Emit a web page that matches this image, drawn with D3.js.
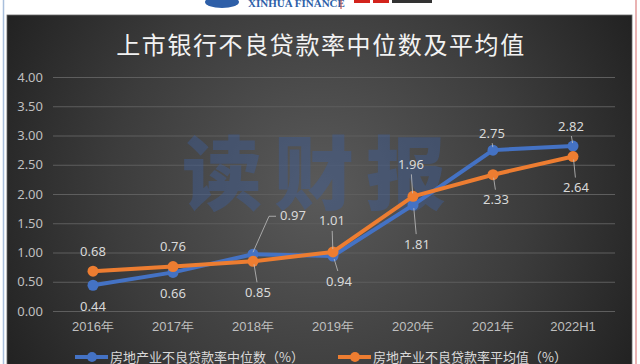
<!DOCTYPE html>
<html>
<head>
<meta charset="utf-8">
<script src="https://cdn.jsdelivr.net/npm/d3@7"></script>
<style>
  html, body { margin: 0; padding: 0; background: #ffffff; }
  svg { display: block; font-family: "Noto Sans CJK SC", "Noto Sans", sans-serif; }
</style>
</head>
<body>
<svg id="chart" width="640" height="364"></svg>
<script>
// data
var categories = ["2016年", "2017年", "2018年", "2019年", "2020年", "2021年", "2022H1"];
var medianValues = [0.44, 0.66, 0.97, 0.94, 1.81, 2.75, 2.82];
var meanValues = [0.68, 0.76, 0.85, 1.01, 1.96, 2.33, 2.64];
var yTicks = [0, 0.5, 1, 1.5, 2, 2.5, 3, 3.5, 4];
var seriesNames = ["房地产业不良贷款率中位数（%）", "房地产业不良贷款率平均值（%）"];
var titleText = "上市银行不良贷款率中位数及平均值";

// label placement (px offsets from the point), leader line drawn when lead = true
var medianLabelPos = [
	{dx: 0, dy: 21, lead: false}, {dx: 0, dy: 21, lead: false}, {dx: 40, dy: -39, lead: true, elbow: true},
	{dx: 6, dy: 25, lead: true}, {dx: 4, dy: 39, lead: true}, {dx: -1, dy: -17, lead: true}, {dx: -2, dy: -20, lead: true}
];
var meanLabelPos = [
	{dx: 0, dy: -20, lead: false}, {dx: 0, dy: -20, lead: false}, {dx: 5, dy: 31, lead: true},
	{dx: -1, dy: -31, lead: true}, {dx: -2, dy: -32, lead: true}, {dx: 3, dy: 25, lead: true}, {dx: 3, dy: 31, lead: true}
];

var BLUE = "#4472c4", ORANGE = "#ed7d31";
var PLOT_L = 53, PLOT_R = 613, PLOT_T = 77, PLOT_B = 311;

var svg = d3.select("#chart");

// ---- header strip with logos (cut off at top)
var head = svg.append("g");
head.append("ellipse").attr("cx", 222).attr("cy", 2).attr("rx", 17).attr("ry", 6).attr("fill", "#2e5fa8");
head.append("text").attr("x", 248).attr("y", 7)
	.attr("font-family", "Liberation Serif, serif").attr("font-weight", "bold")
	.attr("font-size", 11).attr("fill", "#2e5fa8").text("XINHUA FINANCE");
head.append("line").attr("x1", 341).attr("x2", 341).attr("y1", 0).attr("y2", 9)
	.attr("stroke", "#c0302a").attr("stroke-width", 1);
head.append("rect").attr("x", 354).attr("y", 0).attr("width", 16).attr("height", 3).attr("fill", "#d3231c");
head.append("rect").attr("x", 373).attr("y", 0).attr("width", 16).attr("height", 3).attr("fill", "#d3231c");
head.append("rect").attr("x", 392).attr("y", 0).attr("width", 40).attr("height", 3).attr("fill", "#333");

// side borders
svg.append("line").attr("x1", 3.5).attr("x2", 3.5).attr("y1", 0).attr("y2", 364).attr("stroke", "#a9bfdc").attr("stroke-width", 1.5);
svg.append("line").attr("x1", 636).attr("x2", 636).attr("y1", 0).attr("y2", 364).attr("stroke", "#e39a9a").attr("stroke-width", 1.5);

// ---- dark panel
var defs = svg.append("defs");
var grad = defs.append("radialGradient").attr("id", "bg")
	.attr("gradientUnits", "userSpaceOnUse")
	.attr("cx", 320).attr("cy", 190).attr("r", 380);
grad.append("stop").attr("offset", "0%").attr("stop-color", "#5a5a5a");
grad.append("stop").attr("offset", "55%").attr("stop-color", "#3c3c3c");
grad.append("stop").attr("offset", "100%").attr("stop-color", "#1e1e1e");

svg.append("rect").attr("x", 7).attr("y", 15).attr("width", 625).attr("height", 360)
	.attr("fill", "url(#bg)").attr("stroke", "#6a6a6a").attr("stroke-width", 0.8);

// title
svg.append("text").attr("x", 321).attr("y", 54).attr("text-anchor", "middle")
	.attr("font-size", 24).attr("letter-spacing", 1.6).attr("fill", "#f2f2f2")
	.text(titleText);

// scales
var x = d3.scaleBand().domain(categories).range([PLOT_L, PLOT_R]);
var y = d3.scaleLinear().domain([0, 4]).range([PLOT_B, PLOT_T]);
var cx = function(i) { return x(categories[i]) + x.bandwidth() / 2; };

// gridlines + y labels
var yAxis = d3.axisLeft(y).tickValues(yTicks).tickFormat(d3.format(".2f"))
	.tickSize(-(PLOT_R + 2 - PLOT_L)).tickPadding(10);
var gy = svg.append("g").attr("transform", "translate(" + PLOT_L + ",0)").call(yAxis);
gy.select(".domain").remove();
gy.selectAll(".tick line").attr("stroke", "#5e5e5e").attr("stroke-width", 1);
gy.selectAll(".tick text").attr("fill", "#bfbfbf").attr("font-size", 13)
	.attr("font-family", "Noto Sans, sans-serif");

// x labels
var xAxis = d3.axisBottom(x).tickSize(0).tickPadding(11);
var gx = svg.append("g").attr("transform", "translate(0," + PLOT_B + ")").call(xAxis);
gx.select(".domain").remove();
gx.selectAll(".tick text").attr("fill", "#bfbfbf").attr("font-size", 13);

// watermark
svg.append("text").attr("x", 320).attr("y", 203).attr("text-anchor", "middle")
	.attr("font-size", 80).attr("font-weight", 900).attr("letter-spacing", 12)
	.attr("fill", "#3d5e96").attr("fill-opacity", 0.45)
	.text("读财报");

// series
var line = d3.line().x(function(d, i) { return cx(i); }).y(function(d) { return y(d); });

function drawSeries(values, color, labelPos) {
	var g = svg.append("g");
	g.append("path").datum(values).attr("d", line)
		.attr("fill", "none").attr("stroke", color).attr("stroke-width", 4)
		.attr("stroke-linejoin", "round");
	g.selectAll("circle").data(values).enter().append("circle")
		.attr("cx", function(d, i) { return cx(i); })
		.attr("cy", function(d) { return y(d); })
		.attr("r", 5.5).attr("fill", color);
	return g;
}

function drawLabels(values, labelPos) {
	var g = svg.append("g");
	values.forEach(function(v, i) {
		var p = labelPos[i];
		var px = cx(i), py = y(v);
		var lx = px + p.dx, ly = py + p.dy;
		if (p.lead) {
			var pts;
			if (p.elbow) {
				pts = [[px, py - 2], [lx - 24, ly + 1], [lx - 17, ly + 1]];
			} else {
				var up = p.dy < 0;
				pts = [[px + p.dx * 0.2, py + (up ? -3 : 3)], [lx - p.dx * 0.2, ly + (up ? 10 : -10)]];
			}
			g.append("path").attr("d", d3.line()(pts))
				.attr("fill", "none").attr("stroke", "#bfbfbf").attr("stroke-width", 0.8);
		}
		g.append("text").attr("x", lx).attr("y", ly).attr("dy", "0.35em")
			.attr("text-anchor", "middle").attr("font-size", 13)
			.attr("font-family", "Noto Sans, sans-serif")
			.attr("fill", "#d9d9d9").text(d3.format(".2f")(v));
	});
}

drawSeries(medianValues, BLUE);
drawSeries(meanValues, ORANGE);
drawLabels(medianValues, medianLabelPos);
drawLabels(meanValues, meanLabelPos);

// legend
var legendItems = [
	{name: seriesNames[0], color: BLUE, x: 75},
	{name: seriesNames[1], color: ORANGE, x: 338}
];
var lg = svg.append("g").attr("transform", "translate(0,357)");
legendItems.forEach(function(it) {
	lg.append("line").attr("x1", it.x).attr("x2", it.x + 33).attr("y1", 0).attr("y2", 0)
		.attr("stroke", it.color).attr("stroke-width", 4);
	lg.append("circle").attr("cx", it.x + 17).attr("cy", 0).attr("r", 5).attr("fill", it.color);
	lg.append("text").attr("x", it.x + 35).attr("y", 0).attr("dy", "0.35em")
		.attr("font-size", 13).attr("fill", "#d9d9d9").text(it.name);
});
</script>
</body>
</html>
